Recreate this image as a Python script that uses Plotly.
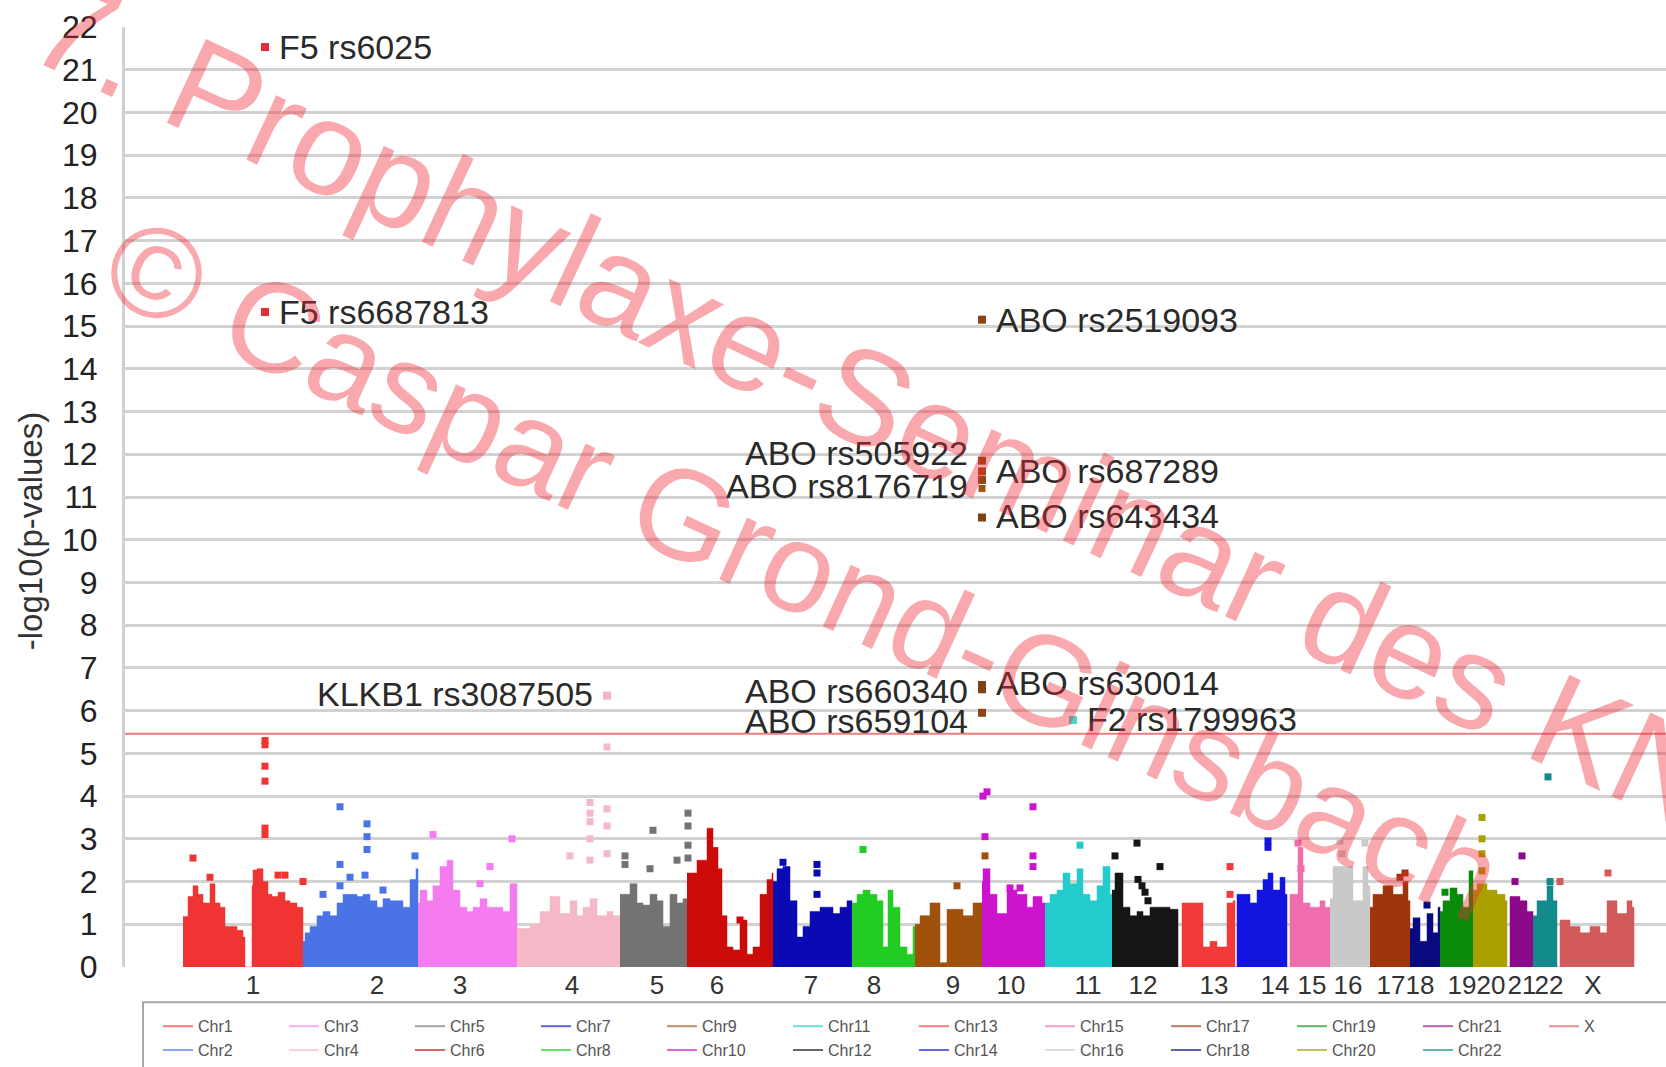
import plotly.graph_objects as go

# ---------------- data ----------------
chrom_names = ["Chr1", "Chr2", "Chr3", "Chr4", "Chr5", "Chr6", "Chr7", "Chr8", "Chr9", "Chr10",
               "Chr11", "Chr12", "Chr13", "Chr14", "Chr15", "Chr16", "Chr17", "Chr18", "Chr19",
               "Chr20", "Chr21", "Chr22", "X"]
chrom_colors = ["#f03434", "#4a74e6", "#f57cf0", "#f5b8c6", "#737373", "#cc0a0a", "#0a0ab4",
                "#22cc22", "#a0520c", "#cc14cc", "#22cccc", "#151515", "#f23a3a", "#1414e0",
                "#f06cae", "#c9c9c9", "#a0340a", "#0a0a80", "#0a8a0a", "#aaa000", "#8a0a8a",
                "#128a8c", "#d25a5a"]
chrom_end = [178, 293, 392, 495, 562, 648, 727, 790, 857, 920, 987, 1053, 1110, 1162, 1205,
             1245, 1285, 1315, 1348, 1382, 1408, 1432, 1509]

tick_labels = ["1", "2", "3", "4", "5", "6", "7", "8", "9", "10", "11", "12", "13", "14", "15",
               "16", "17", "18", "19", "20", "21", "22", "X"]
tick_pos = [128, 252, 335, 447, 532, 592, 686, 749, 828, 886, 963, 1018, 1089, 1150, 1187, 1223,
            1266, 1295, 1337, 1366, 1397, 1424, 1468]

# upper envelope of the dense bulk of SNPs per chromosome (position, -log10 p)
c1_pos = [58, 63, 68, 73, 78, 85, 90, 95, 100, 107, 112, 118, 120, 127, 128, 132, 138, 143, 147, 153, 160, 165, 172, 177]
c1_val = [1.18, 1.65, 1.9, 1.7, 1.5, 1.95, 1.5, 1.4, 0.95, 0.95, 0.86, 0.7, 0, 1.9, 2.27, 2.3, 2.0, 1.7, 1.65, 1.75, 1.55, 1.5, 1.4, 1.4]
c2_pos = [178, 180, 185, 192, 198, 205, 212, 218, 225, 232, 238, 245, 252, 258, 265, 272, 278, 285, 291]
c2_val = [0.6, 0.8, 0.95, 1.2, 1.3, 1.2, 1.5, 1.7, 1.7, 1.65, 1.7, 1.55, 1.4, 1.6, 1.55, 1.55, 1.4, 2.05, 2.3]
c3_pos = [293, 295, 302, 308, 315, 322, 328, 335, 342, 348, 355, 362, 372, 378, 385]
c3_val = [1.5, 1.8, 1.55, 1.9, 2.35, 2.5, 1.8, 1.4, 1.3, 1.4, 1.6, 1.4, 1.4, 1.3, 1.95]
c4_pos = [392, 405, 415, 425, 435, 445, 452, 458, 465, 472, 482, 488]
c4_val = [0.9, 1.0, 1.3, 1.65, 1.25, 1.55, 1.2, 1.4, 1.6, 1.2, 1.3, 1.2]
c5_pos = [495, 505, 512, 518, 525, 532, 538, 545, 552, 558]
c5_val = [1.7, 1.95, 1.5, 1.45, 1.7, 1.55, 0.95, 1.7, 1.5, 1.6]
c6_pos = [562, 572, 582, 588, 593, 597, 602, 608, 615, 622, 628, 635, 642, 647]
c6_val = [2.2, 2.5, 3.25, 2.8, 2.3, 1.2, 0.47, 0.4, 1.1, 0.3, 0.47, 1.7, 2.05, 2.2]
c7_pos = [648, 652, 658, 665, 672, 678, 685, 695, 702, 708, 715, 722]
c7_val = [2.0, 2.3, 2.35, 1.55, 0.7, 0.95, 1.3, 1.4, 1.4, 1.25, 1.4, 1.55]
c8_pos = [727, 732, 738, 745, 752, 758, 763, 768, 775, 782, 788]
c8_val = [1.5, 1.7, 1.8, 1.7, 1.55, 0.47, 1.8, 1.4, 0.47, 0.3, 0.95]
c9_pos = [790, 795, 805, 815, 822, 838, 848]
c9_val = [1.0, 1.2, 1.5, 0.1, 1.35, 1.2, 1.5]
c10_pos = [857, 858, 865, 872, 882, 892, 902, 908, 917]
c10_val = [2.0, 2.3, 1.7, 1.25, 1.8, 1.7, 1.4, 1.65, 1.5]
c11_pos = [920, 925, 932, 938, 945, 952, 958, 965, 972, 978, 985]
c11_val = [1.5, 1.7, 1.8, 2.2, 1.95, 2.3, 1.7, 1.55, 1.9, 2.35, 1.7]
c12_pos = [987, 990, 998, 1005, 1012, 1018, 1025, 1035, 1045, 1052]
c12_val = [1.8, 2.2, 1.4, 1.2, 1.3, 1.2, 1.4, 1.4, 1.35, 1.35]
c13_pos = [1053, 1057, 1072, 1078, 1085, 1092, 1102, 1108]
c13_val = [0, 1.5, 1.5, 0.47, 0.6, 0.47, 1.5, 1.55]
c14_pos = [1110, 1112, 1125, 1132, 1138, 1143, 1148, 1155, 1160]
c14_val = [0, 1.7, 1.5, 1.8, 2.05, 2.2, 1.8, 2.1, 1.7]
c15_pos = [1162, 1165, 1173, 1178, 1185, 1195, 1200]
c15_val = [0, 1.7, 2.8, 1.5, 1.4, 1.55, 1.4]
c16_pos = [1205, 1208, 1218, 1228, 1238, 1243]
c16_val = [1.6, 2.35, 2.35, 1.55, 2.35, 1.9]
c17_pos = [1245, 1248, 1258, 1268, 1278, 1283]
c17_val = [1.4, 1.7, 1.9, 1.7, 2.0, 1.55]
c18_pos = [1285, 1288, 1295, 1302, 1308, 1313]
c18_val = [0.9, 1.15, 0.6, 1.25, 0.8, 1.4]
c19_pos = [1315, 1318, 1325, 1332, 1338, 1344]
c19_val = [1.3, 1.55, 1.85, 1.7, 1.4, 2.25]
c20_pos = [1348, 1352, 1362, 1372, 1380]
c20_val = [1.8, 1.95, 1.8, 1.7, 1.55]
c21_pos = [1382, 1385, 1395, 1402]
c21_val = [0, 1.65, 1.55, 1.3]
c22_pos = [1408, 1412, 1422, 1428]
c22_val = [1.2, 1.55, 1.9, 1.55]
cX_pos = [1432, 1435, 1445, 1455, 1465, 1475, 1482, 1492, 1502, 1507]
cX_val = [0, 1.1, 0.95, 0.8, 0.95, 0.8, 1.55, 1.25, 1.55, 1.4]

# individual SNPs standing out above the bulk
h1_pos = [68, 85, 140, 140, 140, 140, 140, 140, 153, 160, 178]
h1_val = [2.55, 2.1, 3.1, 3.25, 4.35, 4.7, 5.2, 5.3, 2.15, 2.15, 2.0]
h2_pos = [198, 215, 215, 215, 225, 240, 242, 242, 242, 258, 290]
h2_val = [1.7, 1.9, 2.4, 3.75, 2.1, 2.15, 2.75, 3.05, 3.35, 1.8, 2.6]
h3_pos = [308, 328, 355, 365, 387]
h3_val = [3.1, 1.65, 1.95, 2.35, 3.0]
h4_pos = [445, 465, 465, 465, 465, 465, 482, 482, 482, 482]
h4_val = [2.6, 2.5, 3.0, 3.4, 3.6, 3.85, 2.65, 3.3, 3.7, 5.15]
h5_pos = [500, 500, 525, 528, 552, 563, 563, 563, 563]
h5_val = [2.4, 2.6, 2.3, 3.2, 2.5, 2.55, 2.85, 3.3, 3.6]
h6_pos = [615]
h6_val = [1.1]
h7_pos = [658, 692, 692, 692]
h7_val = [2.45, 1.7, 2.2, 2.4]
h8_pos = [738]
h8_val = [2.75]
h9_pos = [832, 860, 857]
h9_val = [1.9, 2.6, 11.2]
h10_pos = [860, 858, 862, 908, 908, 908, 885, 895]
h10_val = [3.05, 4.0, 4.1, 3.75, 2.6, 2.35, 1.85, 1.85]
h11_pos = [955]
h11_val = [2.85]
h12_pos = [990, 1012, 1013, 1017, 1020, 1023, 1035]
h12_val = [2.6, 2.9, 2.05, 1.9, 1.75, 1.55, 2.35]
h13_pos = [1105, 1105]
h13_val = [1.7, 2.35]
h14_pos = [1143, 1143]
h14_val = [2.8, 2.95]
h15_pos = [1173, 1176]
h15_val = [2.9, 2.3]
h16_pos = [1215, 1217, 1240]
h16_val = [2.95, 2.65, 2.9]
h17_pos = [1275, 1280]
h17_val = [2.1, 2.2]
h18_pos = [1302]
h18_val = [1.45]
h19_pos = [1320]
h19_val = [1.75]
h20_pos = [1357, 1357, 1357, 1357]
h20_val = [2.25, 2.65, 3.0, 3.5]
h21_pos = [1390, 1397]
h21_val = [2.0, 2.6]
h22_pos = [1423, 1425]
h22_val = [4.45, 2.0]
hX_pos = [1435, 1483]
hX_val = [2.0, 2.2]

# labelled top hits
snp_names = ["F5 rs6025", "F5 rs6687813", "KLKB1 rs3087505", "ABO rs2519093", "ABO rs505922",
             "ABO rs687289", "ABO rs8176719", "ABO rs643434", "ABO rs630014", "ABO rs660340",
             "ABO rs659104", "F2 rs1799963"]
snp_chrom = [1, 1, 4, 9, 9, 9, 9, 9, 9, 9, 9, 11]
snp_pos = [140, 140, 482, 857, 857, 857, 857, 857, 857, 857, 857, 948]
snp_val = [21.53, 15.33, 6.35, 15.15, 11.85, 11.6, 11.4, 10.52, 6.6, 6.5, 5.95, 5.78]

threshold = 5.46

watermark_1 = "7. Prophylaxe-Seminar des KNS"
watermark_2 = "© Caspar Grond-Ginsbach"

# ---------------- figure ----------------
env_pos = [c1_pos, c2_pos, c3_pos, c4_pos, c5_pos, c6_pos, c7_pos, c8_pos, c9_pos, c10_pos,
           c11_pos, c12_pos, c13_pos, c14_pos, c15_pos, c16_pos, c17_pos, c18_pos, c19_pos,
           c20_pos, c21_pos, c22_pos, cX_pos]
env_val = [c1_val, c2_val, c3_val, c4_val, c5_val, c6_val, c7_val, c8_val, c9_val, c10_val,
           c11_val, c12_val, c13_val, c14_val, c15_val, c16_val, c17_val, c18_val, c19_val,
           c20_val, c21_val, c22_val, cX_val]
hit_pos = [h1_pos, h2_pos, h3_pos, h4_pos, h5_pos, h6_pos, h7_pos, h8_pos, h9_pos, h10_pos,
           h11_pos, h12_pos, h13_pos, h14_pos, h15_pos, h16_pos, h17_pos, h18_pos, h19_pos,
           h20_pos, h21_pos, h22_pos, hX_pos]
hit_val = [h1_val, h2_val, h3_val, h4_val, h5_val, h6_val, h7_val, h8_val, h9_val, h10_val,
           h11_val, h12_val, h13_val, h14_val, h15_val, h16_val, h17_val, h18_val, h19_val,
           h20_val, h21_val, h22_val, hX_val]

FONT = "Liberation Sans, Arial, sans-serif"
fig = go.Figure()

for i, name in enumerate(chrom_names):
    col = chrom_colors[i]
    fig.add_trace(go.Scatter(
        x=env_pos[i] + [chrom_end[i]], y=env_val[i] + [0],
        mode="lines", line=dict(shape="hv", width=0.5, color=col),
        fill="tozeroy", fillcolor=col, showlegend=False, hoverinfo="skip"))
    fig.add_trace(go.Scatter(
        x=hit_pos[i], y=hit_val[i], mode="markers",
        marker=dict(symbol="square", size=7, color=col), showlegend=False,
        cliponaxis=False))

snp_colors = ["#e0303c", "#e0303c", "#f2b4c4", "#8c4614", "#8c4614", "#a24a10", "#8c4614",
              "#7a4418", "#7a4418", "#7a4418", "#8c4614", "#40d8c8"]
fig.add_trace(go.Scatter(x=snp_pos, y=snp_val, mode="markers",
                         marker=dict(symbol="square", size=8, color=snp_colors),
                         showlegend=False, cliponaxis=False))

# legend: 12 small two-row columns (odd chromosome above even)
n_cols = 12
legend_layouts = {}
for k in range(n_cols):
    key = "legend" if k == 0 else f"legend{k + 1}"
    for i in (2 * k, 2 * k + 1):
        if i < len(chrom_names):
            fig.add_trace(go.Scatter(x=[None], y=[None], mode="lines", name=chrom_names[i],
                                     line=dict(color=chrom_colors[i], width=2), opacity=0.65,
                                     legend=key))
    legend_layouts[key] = dict(orientation="v", x=(33 + 126 * k) / 1541, y=-0.045,
                               xanchor="left", yanchor="top",
                               font=dict(family=FONT, size=16, color="#555"),
                               bgcolor="rgba(0,0,0,0)", tracegroupgap=0, traceorder="normal")

# labels for top hits
label_side = ["r", "r", "l", "r", "l", "r", "l", "r", "r", "l", "l", "r"]
label_shift = [0, 0, 2, 0, 8, 0, -6, 2, 2, -2, -8, 1]
for name, x, y, side, sh in zip(snp_names, snp_pos, snp_val, label_side, label_shift):
    fig.add_annotation(x=x, y=y, text=name, showarrow=False,
                       xanchor="left" if side == "r" else "right",
                       xshift=12 if side == "r" else -12, yshift=sh,
                       font=dict(family=FONT, size=34, color="#2a2a2a"))

# significance threshold
fig.add_shape(type="line", xref="paper", x0=0, x1=1, yref="y", y0=threshold, y1=threshold,
              line=dict(color="#e68080", width=2))

# legend frame
fig.add_shape(type="rect", xref="paper", yref="paper", x0=0.0117, x1=1.02, y0=-0.25, y1=-0.0376,
              line=dict(color="#a8a8a8", width=2), fillcolor="rgba(0,0,0,0)", layer="below")

# y axis title
fig.add_annotation(xref="paper", yref="paper", x=-0.0617, y=0.4635, text="-log10(p-values)",
                   xanchor="center", yanchor="middle",
                   textangle=-90, showarrow=False, font=dict(family=FONT, size=33, color="#333"))

# watermark
fig.add_annotation(xref="paper", yref="paper", x=0.513, y=0.581, text=watermark_1,
                   xanchor="center", yanchor="middle", textangle=25, showarrow=False,
                   font=dict(family=FONT, size=134, color="rgba(240,40,52,0.40)"))
fig.add_annotation(xref="paper", yref="paper", x=0.440, y=0.424, text=watermark_2,
                   xanchor="center", yanchor="middle", textangle=24.6, showarrow=False,
                   font=dict(family=FONT, size=128, color="rgba(240,40,52,0.40)"))

fig.update_layout(
    width=1666, height=1067,
    margin=dict(l=125, r=0, t=27, b=100, autoexpand=False),
    paper_bgcolor="white", plot_bgcolor="white",
    font=dict(family=FONT),
    xaxis=dict(range=[0, 1541], showgrid=False, zeroline=False, showline=False,
               tickmode="array", tickvals=tick_pos, ticktext=tick_labels, tickangle=0,
               tickfont=dict(family=FONT, size=26, color="#333")),
    yaxis=dict(range=[0, 22], dtick=1, showgrid=True, gridcolor="#d2d2d2", gridwidth=2.5,
               zeroline=False, showline=True, linecolor="#d0d0d0", linewidth=3,
               ticks="", ticklabelstandoff=18,
               tickfont=dict(family=FONT, size=32, color="#222")),
    showlegend=True,
    **legend_layouts,
)

fig.write_html("out.html")
